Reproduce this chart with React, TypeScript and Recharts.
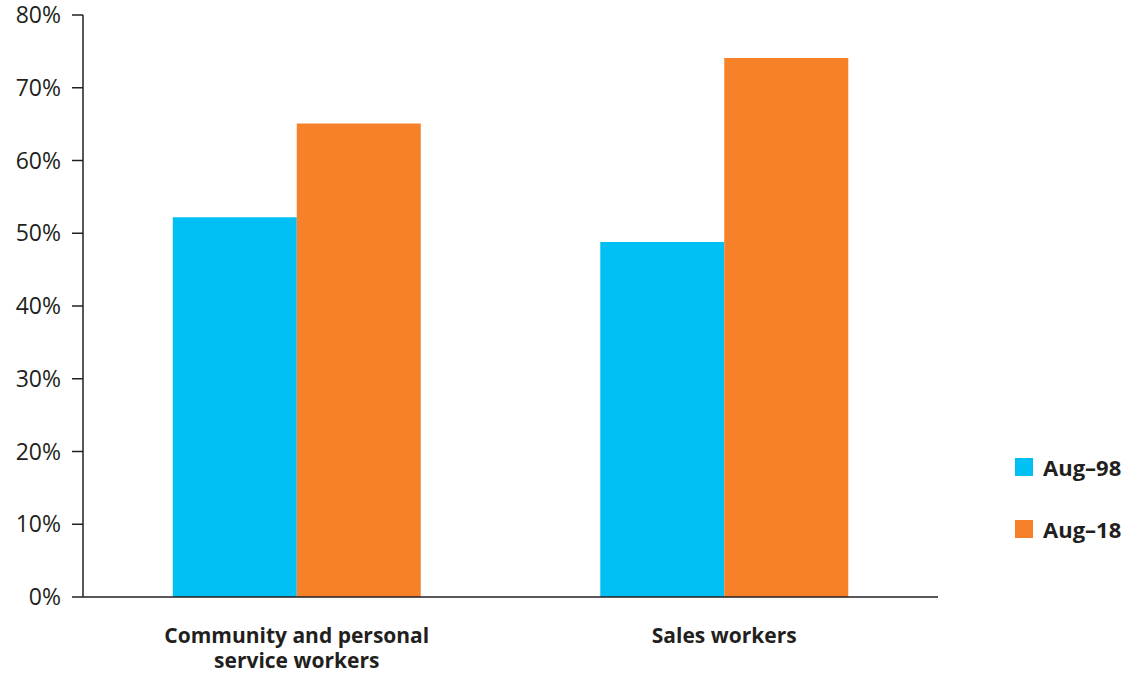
import { BarChart, Bar, XAxis, YAxis } from "recharts";

document.body.style.margin = "0";

const categories = ["Community and personal|service workers", "Sales workers"];
const aug98 = [52.2, 48.8];
const aug18 = [65.1, 74.1];
const yTicks = [0, 10, 20, 30, 40, 50, 60, 70, 80];
const seriesNames = ["Aug–98", "Aug–18"];
const seriesColors = ["#00bff3", "#f78128"];

const data = categories.map((c, i) => ({ name: c, aug98: aug98[i], aug18: aug18[i] }));

const INK = "#231f20";
const FONT = "'Open Sans', Lato, sans-serif";

const CategoryTick = ({ x, y, payload }: any) => {
  const lines = String(payload.value).split("|");
  return (
    <text x={x} y={y} textAnchor="middle" fill={INK} fontSize={21} fontWeight={700} fontFamily={FONT}>
      {lines.map((l, i) => (
        <tspan key={i} x={x} dy={i === 0 ? 38 : 25}>{l}</tspan>
      ))}
    </text>
  );
};

export default function App() {
  return (
    <div style={{ position: "relative", width: 1130, height: 674 }}>
      <BarChart
        width={1130}
        height={674}
        data={data}
        margin={{ top: 15, right: 192, left: 0, bottom: 17 }}
        barCategoryGap="21%"
        barGap={0}
      >
        <XAxis
          dataKey="name"
          tick={<CategoryTick />}
          tickLine={false}
          axisLine={{ stroke: INK, strokeWidth: 1.5 }}
          height={60}
          interval={0}
        />
        <YAxis
          width={83}
          domain={[0, 80]}
          ticks={yTicks}
          tickFormatter={(v: number) => `${v}%`}
          tick={{ fill: INK, fontSize: 23, fontFamily: FONT }}
          tickLine={{ stroke: INK, strokeWidth: 1.5 }}
          tickSize={11}
          tickMargin={11}
          axisLine={{ stroke: INK, strokeWidth: 1.5 }}
        />
        <Bar dataKey="aug98" name={seriesNames[0]} fill={seriesColors[0]} isAnimationActive={false} />
        <Bar dataKey="aug18" name={seriesNames[1]} fill={seriesColors[1]} isAnimationActive={false} />
      </BarChart>
      <div style={{ position: "absolute", left: 1015, top: 458 }}>
        {seriesNames.map((n, idx) => (
          <div key={n} style={{ display: "flex", alignItems: "center", height: 18, marginBottom: 44 }}>
            <span style={{ width: 18, height: 18, background: seriesColors[idx], display: "inline-block", flexShrink: 0 }} />
            <span style={{ marginLeft: 10, fontFamily: FONT, fontWeight: 700, fontSize: 22, color: INK, whiteSpace: "nowrap" }}>{n}</span>
          </div>
        ))}
      </div>
    </div>
  );
}
